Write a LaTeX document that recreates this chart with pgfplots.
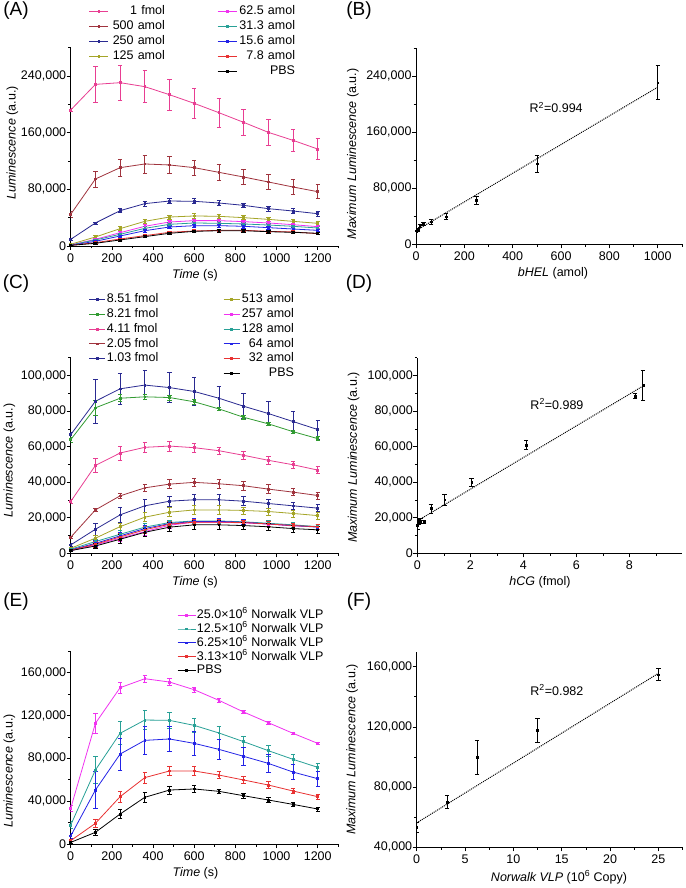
\documentclass[border=0pt]{standalone}
\usepackage{pgfplots}
\pgfplotsset{compat=1.18}
\usepackage{fontspec}
\setmainfont{Liberation Sans}
\definecolor{cpink}{RGB}{232,62,146}
\definecolor{cbrown}{RGB}{160,52,62}
\definecolor{cnavy}{RGB}{42,42,145}
\definecolor{colive}{RGB}{165,165,40}
\definecolor{cmag}{RGB}{240,50,240}
\definecolor{cteal}{RGB}{40,160,150}
\definecolor{cblue}{RGB}{35,35,230}
\definecolor{cred}{RGB}{232,50,50}
\definecolor{cgreen}{RGB}{50,155,50}
\newcommand{\fs}{\fontsize{12.5}{14}\selectfont}
\pgfplotsset{
  myaxis/.style={
    scale only axis, axis lines*=left, axis line style={-, line width=0.6pt},
    tick align=outside, tick style={black, line width=0.6pt},
    major tick length=4pt, minor tick length=2.5pt,
    tick label style={font=\fs},
    label style={font=\fs},
    /pgf/number format/assume math mode=true,
    scaled y ticks=false, scaled x ticks=false,
    yticklabel style={/pgf/number format/fixed, /pgf/number format/1000 sep={,}, xshift=3pt},
    xticklabel style={/pgf/number format/1000 sep={}},
    xmin=0,
  },
  ts/.style={mark=square*, mark size=0.9pt, line width=0.8pt,
    error bars/.cd, y dir=both, y explicit,
    error bar style={line width=0.7pt}, error mark options={rotate=90, mark size=2.2pt, line width=0.7pt}},
  tsf/.style={forget plot, ts},
  sc/.style={black, only marks, mark=square*, mark size=0.9pt,
    error bars/.cd, y dir=both, y explicit,
    error bar style={line width=0.7pt}, error mark options={rotate=90, mark size=2.2pt, line width=0.7pt}},
  fit/.style={black, dash pattern=on 1pt off 1pt, line width=1pt, no marks},
  lim/.style={#1, mark=square*, mark size=0.9pt, line width=0.8pt},
  legax/.style={scale only axis, hide axis, xmin=0, xmax=1, ymin=0, ymax=1},
  legA/.style={legend image code/.code={\draw[mark repeat=2,mark phase=2] plot coordinates {(0pt,0pt) (9.5pt,0pt) (19pt,0pt)};},
    legend style={draw=none, fill=none, anchor=north west, font=\fs, cells={anchor=west}, inner sep=0pt, row sep=0pt,
    nodes={inner ysep=1.7pt, inner xsep=2pt, text height=9pt, text depth=2.5pt, text width=#1, align=right}}},
  legCl/.style={legend image code/.code={\draw[mark repeat=2,mark phase=2] plot coordinates {(0pt,0pt) (8pt,0pt) (16pt,0pt)};},
    legend style={draw=none, fill=none, anchor=north west, font=\fs, cells={anchor=west}, inner sep=0pt, row sep=0pt,
    nodes={inner ysep=1.6pt, inner xsep=1pt, text height=9pt, text depth=2.5pt}}},
  legCr/.style={legend image code/.code={\draw[mark repeat=2,mark phase=2] plot coordinates {(0pt,0pt) (8pt,0pt) (16pt,0pt)};},
    legend style={draw=none, fill=none, anchor=north west, font=\fs, cells={anchor=west}, inner sep=0pt, row sep=0pt,
    nodes={inner ysep=1.6pt, inner xsep=1pt, text height=9pt, text depth=2.5pt, text width=#1, align=right}}},
}
\begin{document}
\begin{tikzpicture}[x=1pt,y=1pt]
\useasboundingbox (0pt,0pt) rectangle (685pt,888pt);
\node[font=\fontsize{19}{21}\selectfont] at (16pt,877pt) {(A)};
\node[font=\fontsize{19}{21}\selectfont] at (359pt,877pt) {(B)};
\node[font=\fontsize{19}{21}\selectfont] at (16pt,604pt) {(C)};
\node[font=\fontsize{19}{21}\selectfont] at (359pt,604pt) {(D)};
\node[font=\fontsize{19}{21}\selectfont] at (16pt,286pt) {(E)};
\node[font=\fontsize{19}{21}\selectfont] at (359pt,286pt) {(F)};

% ---------------- (A)
\begin{axis}[myaxis, at={(70.7pt,642pt)}, anchor=south west, width=267.6pt, height=198.3pt,
  xmax=1300, ymin=0, ymax=280000,
  xtick={0,200,...,1200}, minor xtick={100,300,...,1300},
  ytick={0,80000,160000,240000}, minor ytick={40000,120000,200000,280000},
  xlabel={\textit{Time} (s)}, ylabel={\textit{Luminescence} (a.u.)},
  xlabel style={at={(ticklabel cs:0.464)}, anchor=north},
  ylabel style={at={(axis description cs:-0.218,0.52)}, anchor=center},
  legA=54pt, legend style={at={(axis description cs:0.068,1.22)}},
]
\addplot[cpink, tsf] table[row sep=\\, y error=e] {x y e\\ 0 192000 2000\\ 120 228200 26000\\ 240 230600 25000\\ 360 225000 22600\\ 480 213600 21600\\ 600 201400 20500\\ 720 188200 20000\\ 840 174600 18000\\ 960 160500 18300\\ 1080 149200 15800\\ 1200 136900 15000\\};
\addplot[cbrown, tsf] table[row sep=\\, y error=e] {x y e\\ 0 44700 4000\\ 120 94600 11300\\ 240 110600 11800\\ 360 115800 12700\\ 480 114400 12000\\ 600 110600 11000\\ 720 104000 11800\\ 840 97400 11000\\ 960 90400 11000\\ 1080 83300 10100\\ 1200 76700 9900\\};
\addplot[cnavy, tsf] table[row sep=\\, y error=e] {x y e\\ 0 9400 1000\\ 120 32500 1500\\ 240 49900 3000\\ 360 59800 3500\\ 480 63500 3800\\ 600 63100 3500\\ 720 60700 3500\\ 840 57400 3500\\ 960 52700 3500\\ 1080 49400 3500\\ 1200 45600 3500\\};
\addplot[colive, tsf] table[row sep=\\, y error=e] {x y e\\ 0 2400 500\\ 120 12700 2000\\ 240 24500 3000\\ 360 34800 3000\\ 480 40900 3000\\ 600 42400 3000\\ 720 41900 3000\\ 840 40000 3000\\ 960 37600 3000\\ 1080 34800 2500\\ 1200 32000 2500\\};
\addplot[cmag, tsf] table[row sep=\\, y error=e] {x y e\\ 0 1400 500\\ 120 9400 1500\\ 240 18800 2500\\ 360 27800 2500\\ 480 33900 2500\\ 600 35800 2500\\ 720 35800 2500\\ 840 34400 2500\\ 960 32500 2500\\ 1080 30100 2000\\ 1200 27300 2000\\};
\addplot[cteal, tsf] table[row sep=\\, y error=e] {x y e\\ 0 1400 500\\ 120 8500 1500\\ 240 16500 2000\\ 360 24900 2500\\ 480 30600 2500\\ 600 32500 2500\\ 720 32000 2500\\ 840 31100 2500\\ 960 29600 2000\\ 1080 27800 2000\\ 1200 25400 2000\\};
\addplot[cblue, tsf] table[row sep=\\, y error=e] {x y e\\ 0 1000 500\\ 120 6600 1500\\ 240 14100 2000\\ 360 21600 2500\\ 480 26800 2500\\ 600 28700 2500\\ 720 28700 2500\\ 840 27800 2500\\ 960 25900 2000\\ 1080 24000 2000\\ 1200 22100 2000\\};
\addplot[cred, tsf] table[row sep=\\, y error=e] {x y e\\ 0 900 500\\ 120 4700 1000\\ 240 9900 1500\\ 360 14600 1500\\ 480 19300 2000\\ 600 21200 2000\\ 720 22100 2000\\ 840 22100 2000\\ 960 20700 2000\\ 1080 19800 2000\\ 1200 17400 1500\\};
\addplot[black, tsf] table[row sep=\\, y error=e] {x y e\\ 0 900 500\\ 120 3800 1000\\ 240 8500 1500\\ 360 13200 1500\\ 480 17900 2000\\ 600 20700 2000\\ 720 21600 2000\\ 840 21600 2000\\ 960 20200 2000\\ 1080 19300 2000\\ 1200 17900 1500\\};
\addlegendimage{lim=cpink}\addlegendentry{1 fmol}
\addlegendimage{lim=cbrown}\addlegendentry{500 amol}
\addlegendimage{lim=cnavy}\addlegendentry{250 amol}
\addlegendimage{lim=colive}\addlegendentry{125 amol}
\end{axis}
\begin{axis}[legax, at={(70.7pt,642pt)}, anchor=south west, width=267.6pt, height=198.3pt,
  legA=56pt, legend style={at={(axis description cs:0.547,1.22)}}]
\addlegendimage{lim=cmag}\addlegendentry{62.5 amol}
\addlegendimage{lim=cteal}\addlegendentry{31.3 amol}
\addlegendimage{lim=cblue}\addlegendentry{15.6 amol}
\addlegendimage{lim=cred}\addlegendentry{7.8 amol}
\addlegendimage{lim=black}\addlegendentry{PBS}
\end{axis}

% ---------------- (B)
\begin{axis}[myaxis, at={(416pt,643.7pt)}, anchor=south west, width=265.9pt, height=196.4pt,
  xmax=1100, ymin=0, ymax=280000,
  xtick={0,200,...,1000}, minor xtick={100,300,...,1100},
  ytick={0,80000,160000,240000}, minor ytick={40000,120000,200000,280000},
  xlabel={\textit{bHEL} (amol)}, ylabel={\textit{Maximum Luminescence} (a.u.)},
  xlabel style={at={(ticklabel cs:0.515)}, anchor=north},
  ylabel style={at={(axis description cs:-0.237,0.46)}, anchor=center},
]
\addplot[fit] coordinates {(0,19500) (1000,224000)};
\addplot[sc] table[row sep=\\, y error=e] {x y e\\ 0 19500 2000\\ 7.8 21000 2000\\ 15.6 26100 2000\\ 31.3 29000 2500\\ 62.5 32300 3500\\ 125 39400 4000\\ 250 62700 6000\\ 500 115000 12100\\ 1000 230500 24500\\};
\node[font=\fs] at (axis cs:580,195000) {R\textsuperscript{2}=0.994};
\end{axis}

% ---------------- (C)
\begin{axis}[myaxis, at={(70.7pt,334.7pt)}, anchor=south west, width=267.6pt, height=195.6pt,
  xmax=1300, ymin=0, ymax=110000,
  xtick={0,200,...,1200}, minor xtick={100,300,...,1300},
  ytick={0,20000,...,100000}, minor ytick={10000,30000,...,110000},
  xlabel={\textit{Time} (s)}, ylabel={\textit{Luminescence} (a.u.)},
  xlabel style={at={(ticklabel cs:0.464)}, anchor=north},
  ylabel style={at={(axis description cs:-0.229,0.475)}, anchor=center},
  legCl, legend style={at={(axis description cs:0.068,1.335)}},
]
\addplot[cnavy, tsf] table[row sep=\\, y error=e] {x y e\\ 0 66700 1500\\ 120 85500 12200\\ 240 92500 8600\\ 360 94600 8100\\ 480 93200 8300\\ 600 91000 7800\\ 720 87200 6800\\ 840 82700 7000\\ 960 78600 6900\\ 1080 74100 5500\\ 1200 69600 5300\\};
\addplot[cgreen, tsf] table[row sep=\\, y error=e] {x y e\\ 0 63900 1500\\ 120 81800 4000\\ 240 87200 2000\\ 360 88000 1500\\ 480 87600 1500\\ 600 85200 1500\\ 720 81200 1000\\ 840 76500 1000\\ 960 72800 1000\\ 1080 68400 1000\\ 1200 64500 1000\\};
\addplot[cpink, tsf] table[row sep=\\, y error=e] {x y e\\ 0 29100 1000\\ 120 49400 4100\\ 240 56400 4000\\ 360 59600 3000\\ 480 60300 2900\\ 600 59400 2700\\ 720 57700 2000\\ 840 55100 2500\\ 960 52300 2000\\ 1080 49800 2000\\ 1200 46800 2000\\};
\addplot[cbrown, tsf] table[row sep=\\, y error=e] {x y e\\ 0 9000 800\\ 120 24400 1000\\ 240 32300 1500\\ 360 36800 2000\\ 480 38900 2500\\ 600 39900 2500\\ 720 39100 2500\\ 840 38000 2500\\ 960 36100 2500\\ 1080 34400 2000\\ 1200 32500 2000\\};
\addplot[cnavy, tsf] table[row sep=\\, y error=e] {x y e\\ 0 4700 800\\ 120 13500 3500\\ 240 21600 4000\\ 360 26700 3500\\ 480 29300 3000\\ 600 30100 3000\\ 720 30100 3000\\ 840 29300 2500\\ 960 28000 2500\\ 1080 26700 2000\\ 1200 25400 2000\\};
\addplot[colive, tsf] table[row sep=\\, y error=e] {x y e\\ 0 2800 500\\ 120 8500 1500\\ 240 15000 2000\\ 360 20300 2500\\ 480 23100 2500\\ 600 24400 2500\\ 720 24400 2500\\ 840 24100 2000\\ 960 23500 2000\\ 1080 22400 2000\\ 1200 21200 2000\\};
\addplot[cmag, tsf] table[row sep=\\, y error=e] {x y e\\ 0 1500 500\\ 120 4700 1500\\ 240 8500 2000\\ 360 12200 2000\\ 480 15800 2000\\ 600 17500 1500\\ 720 17500 1500\\ 840 17100 1500\\ 960 16400 1500\\ 1080 15400 1500\\ 1200 15000 1500\\};
\addplot[cteal, tsf] table[row sep=\\, y error=e] {x y e\\ 0 2300 500\\ 120 6600 1500\\ 240 10700 2000\\ 360 14700 2000\\ 480 17300 1500\\ 600 18200 1500\\ 720 18200 1500\\ 840 17700 1500\\ 960 16900 1500\\ 1080 16000 1500\\ 1200 15000 1500\\};
\addplot[cblue, tsf] table[row sep=\\, y error=e] {x y e\\ 0 1900 500\\ 120 5600 1500\\ 240 9800 2000\\ 360 13900 2000\\ 480 16700 1500\\ 600 17900 1500\\ 720 17900 1500\\ 840 17500 1500\\ 960 16500 1500\\ 1080 15600 1500\\ 1200 14700 1500\\};
\addplot[cred, tsf] table[row sep=\\, y error=e] {x y e\\ 0 1700 500\\ 120 5100 1500\\ 240 9200 2000\\ 360 13200 2000\\ 480 16400 1500\\ 600 17500 1500\\ 720 17500 1500\\ 840 17300 1500\\ 960 16500 1500\\ 1080 15600 1500\\ 1200 14900 1500\\};
\addplot[black, tsf] table[row sep=\\, y error=e] {x y e\\ 0 1500 500\\ 120 4100 1500\\ 240 7900 2500\\ 360 11800 2500\\ 480 14700 2500\\ 600 16000 2500\\ 720 16000 2500\\ 840 15600 2000\\ 960 14900 2000\\ 1080 13900 2000\\ 1200 13200 2000\\};
\addlegendimage{lim=cnavy}\addlegendentry{8.51 fmol}
\addlegendimage{lim=cgreen}\addlegendentry{8.21 fmol}
\addlegendimage{lim=cpink}\addlegendentry{4.11 fmol}
\addlegendimage{lim=cbrown}\addlegendentry{2.05 fmol}
\addlegendimage{lim=cnavy}\addlegendentry{1.03 fmol}
\end{axis}
\begin{axis}[legax, at={(70.7pt,334.7pt)}, anchor=south west, width=267.6pt, height=195.6pt,
  legCr=53pt, legend style={at={(axis description cs:0.569,1.335)}}]
\addlegendimage{lim=colive}\addlegendentry{513 amol}
\addlegendimage{lim=cmag}\addlegendentry{257 amol}
\addlegendimage{lim=cteal}\addlegendentry{128 amol}
\addlegendimage{lim=cblue}\addlegendentry{64 amol}
\addlegendimage{lim=cred}\addlegendentry{32 amol}
\addlegendimage{lim=black}\addlegendentry{PBS}
\end{axis}

% ---------------- (D)
\begin{axis}[myaxis, at={(417.3pt,334.7pt)}, anchor=south west, width=265pt, height=195.6pt,
  xmax=10, ymin=0, ymax=110000,
  xtick={0,2,...,8}, minor xtick={1,3,...,9},
  ytick={0,20000,...,100000}, minor ytick={10000,30000,...,110000},
  xlabel={\textit{hCG} (fmol)}, ylabel={\textit{Maximum Luminescence} (a.u.)},
  xlabel style={at={(ticklabel cs:0.463)}, anchor=north},
  ylabel style={at={(axis description cs:-0.24,0.49)}, anchor=center},
]
\addplot[fit] coordinates {(0,18200) (8.51,94000)};
\addplot[sc] table[row sep=\\, y error=e] {x y e\\ 0 15800 2500\\ 0.032 17500 1500\\ 0.064 17900 1500\\ 0.128 18200 1500\\ 0.257 17700 1000\\ 0.513 25200 2500\\ 1.03 30100 3000\\ 2.05 39900 2500\\ 4.11 60900 2500\\ 8.21 88400 1500\\ 8.51 94400 8500\\};
\node[font=\fs] at (axis cs:5.27,84000) {R\textsuperscript{2}=0.989};
\end{axis}

% ---------------- (E)
\begin{axis}[myaxis, at={(70.7pt,44pt)}, anchor=south west, width=267.6pt, height=192.7pt,
  xmax=1300, ymin=0, ymax=180000,
  xtick={0,200,...,1200}, minor xtick={100,300,...,1300},
  ytick={0,40000,...,160000}, minor ytick={20000,60000,...,180000},
  xlabel={\textit{Time} (s)}, ylabel={\textit{Luminescence} (a.u.)},
  xlabel style={at={(ticklabel cs:0.466)}, anchor=north},
  ylabel style={at={(axis description cs:-0.229,0.38)}, anchor=center},
  legend image code/.code={\draw[mark repeat=2,mark phase=2] plot coordinates {(0pt,0pt) (9pt,0pt) (18pt,0pt)};},
  legend style={draw=none, fill=none, at={(axis description cs:0.397,1.225)}, anchor=north west,
    font=\fs, cells={anchor=west}, inner sep=0pt, row sep=0pt,
    nodes={inner ysep=1.2pt, inner xsep=1pt, text height=9pt, text depth=2.5pt}},
]
\addplot[cmag, ts] table[row sep=\\, y error=e] {x y e\\ 0 33300 3000\\ 120 112700 9000\\ 240 146000 5300\\ 360 154400 3300\\ 480 151300 3400\\ 600 144100 2000\\ 720 134200 1500\\ 840 123300 1200\\ 960 113300 1200\\ 1080 103400 1000\\ 1200 94000 1000\\};
\addplot[cteal, ts] table[row sep=\\, y error=e] {x y e\\ 0 17700 3000\\ 120 69100 12800\\ 240 103400 10700\\ 360 115800 8700\\ 480 115500 7800\\ 600 110800 6700\\ 720 103700 5800\\ 840 95600 5300\\ 960 87200 5100\\ 1080 79100 4500\\ 1200 71600 4200\\};
\addplot[cblue, ts] table[row sep=\\, y error=e] {x y e\\ 0 7500 2000\\ 120 50400 17000\\ 240 84000 14800\\ 360 96800 12900\\ 480 98100 11400\\ 600 94000 10900\\ 720 88400 9000\\ 840 81900 8200\\ 960 75300 8600\\ 1080 67200 7000\\ 1200 61000 6800\\};
\addplot[cred, ts] table[row sep=\\, y error=e] {x y e\\ 0 3100 1000\\ 120 19300 3400\\ 240 44200 5300\\ 360 62000 5100\\ 480 68200 4200\\ 600 68200 3900\\ 720 64400 3000\\ 840 59800 3000\\ 960 55100 3000\\ 1080 49500 2500\\ 1200 44200 2500\\};
\addplot[black, ts] table[row sep=\\, y error=e] {x y e\\ 0 1500 1000\\ 120 10900 3000\\ 240 28000 3900\\ 360 43600 4500\\ 480 50400 3700\\ 600 51400 3000\\ 720 49200 2000\\ 840 45100 2500\\ 960 41100 2500\\ 1080 37000 2000\\ 1200 32700 2000\\};
\legend{25.0×10\textsuperscript{6} Norwalk VLP, 12.5×10\textsuperscript{6} Norwalk VLP, 6.25×10\textsuperscript{6} Norwalk VLP, 3.13×10\textsuperscript{6} Norwalk VLP, PBS}
\end{axis}

% ---------------- (F)
\begin{axis}[myaxis, at={(416.7pt,40.7pt)}, anchor=south west, width=265.9pt, height=195.7pt,
  xmax=27.5, ymin=40000, ymax=170000,
  xtick={0,5,...,25}, minor xtick={2.5,7.5,...,27.5},
  ytick={40000,80000,120000,160000}, minor ytick={60000,100000,140000},
  xlabel={\textit{Norwalk VLP} (10\textsuperscript{6} Copy)}, ylabel={\textit{Maximum Luminescence} (a.u.)},
  xlabel style={at={(ticklabel cs:0.535)}, anchor=north},
  ylabel style={at={(axis description cs:-0.243,0.5)}, anchor=center},
]
\addplot[fit] coordinates {(0,56200) (25,155600)};
\addplot[sc] table[row sep=\\, y error=e] {x y e\\ 0 53300 3300\\ 3.13 70100 4400\\ 6.25 99800 11200\\ 12.5 117700 7700\\ 25 154700 4100\\};
\node[font=\fs] at (axis cs:14.5,144500) {R\textsuperscript{2}=0.982};
\end{axis}
\end{tikzpicture}
\end{document}
